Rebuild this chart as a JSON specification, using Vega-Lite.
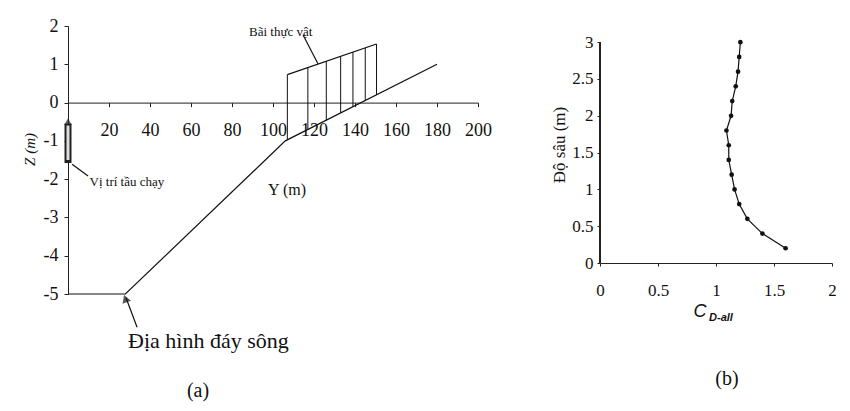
{
  "$schema": "https://vega.github.io/schema/vega-lite/v6.json",
  "background": "white",
  "padding": {"left": 22, "top": 17, "right": 5, "bottom": 5},
  "bounds": "flush",
  "spacing": 122,
  "config": {
    "view": {"stroke": null},
    "axis": {"grid": false, "domainColor": "#222", "tickColor": "#222", "labelColor": "#111", "titleColor": "#111", "labelFont": "Liberation Serif", "titleFont": "Liberation Serif", "titleFontWeight": "normal"},
    "text": {"font": "Liberation Serif", "color": "#111"}
  },
  "datasets": {
    "bed": [{"Y": 0, "Z": -5}, {"Y": 28, "Z": -5}, {"Y": 106, "Z": -1}, {"Y": 180, "Z": 1}],
    "veg": [
      {"Y": 107, "top": 0.73, "bottom": -0.97},
      {"Y": 117, "top": 0.91, "bottom": -0.70},
      {"Y": 126, "top": 1.08, "bottom": -0.46},
      {"Y": 133, "top": 1.21, "bottom": -0.27},
      {"Y": 139, "top": 1.32, "bottom": -0.11},
      {"Y": 145, "top": 1.43, "bottom": 0.05},
      {"Y": 150.5, "top": 1.53, "bottom": 0.20}
    ],
    "segs": [
      {"Y": 107, "Z": 0.73, "Y2": 150.5, "Z2": 1.53},
      {"Y": 2, "Z": -1.61, "Y2": 9.8, "Z2": -1.92},
      {"Y": 114.6, "Z": 1.77, "Y2": 122, "Z2": 1.01},
      {"Y": 33.7, "Z": -5.87, "Y2": 28.3, "Z2": -5.1}
    ],
    "cd": [
      {"cd": 1.60, "depth": 0.2},
      {"cd": 1.40, "depth": 0.4},
      {"cd": 1.27, "depth": 0.6},
      {"cd": 1.20, "depth": 0.8},
      {"cd": 1.16, "depth": 1.0},
      {"cd": 1.135, "depth": 1.2},
      {"cd": 1.11, "depth": 1.4},
      {"cd": 1.11, "depth": 1.6},
      {"cd": 1.09, "depth": 1.8},
      {"cd": 1.13, "depth": 2.0},
      {"cd": 1.14, "depth": 2.2},
      {"cd": 1.17, "depth": 2.4},
      {"cd": 1.19, "depth": 2.6},
      {"cd": 1.20, "depth": 2.8},
      {"cd": 1.21, "depth": 3.0}
    ]
  },
  "hconcat": [
    {
      "width": 410,
      "height": 268,
      "encoding": {
        "x": {"field": "Y", "type": "quantitative", "scale": {"domain": [0, 200], "nice": false, "zero": false},
          "axis": {"orient": "bottom", "offset": -191.4, "values": [0, 20, 40, 60, 80, 100, 120, 140, 160, 180, 200], "labelExpr": "datum.value == 0 ? '' : '' + datum.value", "title": null, "tickSize": 4, "labelPadding": 15, "labelFontSize": 18, "labelFlush": false, "labelOverlap": false}},
        "y": {"field": "Z", "type": "quantitative", "scale": {"domain": [-5, 2], "nice": false, "zero": false},
          "axis": {"values": [-5, -4, -3, -2, -1, 0, 1, 2], "labelExpr": "'' + datum.value", "title": "Z (m)", "titleFontStyle": "italic", "titleFontSize": 15, "titlePadding": 6, "titleY": 123, "tickSize": 4, "labelPadding": 6, "labelFontSize": 18, "labelFlush": false}}
      },
      "layer": [
        {"data": {"name": "bed"}, "mark": {"type": "line", "color": "#111", "strokeWidth": 1.2}},
        {"data": {"name": "veg"}, "mark": {"type": "rule", "color": "#111", "strokeWidth": 1}, "encoding": {"y": {"field": "top", "type": "quantitative"}, "y2": {"field": "bottom"}}},
        {"data": {"name": "segs"}, "mark": {"type": "rule", "color": "#111", "strokeWidth": 1.2}, "encoding": {"x2": {"field": "Y2"}, "y2": {"field": "Z2"}}},
        {"data": {"values": [{"Y": 0, "Z": -1.58, "Z2": -0.55}]}, "mark": {"type": "rule", "color": "#222", "strokeWidth": 7}, "encoding": {"y2": {"field": "Z2"}}},
        {"data": {"values": [{"Y": 0, "Z": -1.5, "Z2": -0.6}]}, "mark": {"type": "rule", "color": "#ddd", "strokeWidth": 3}, "encoding": {"y2": {"field": "Z2"}}},
        {"data": {"values": [{"Y": 0, "Z": -0.5}]}, "mark": {"type": "point", "shape": "triangle-up", "size": 60, "filled": true, "color": "#222"}},
        {"data": {"values": [{"Y": 28.0, "Z": -5.12}]}, "mark": {"type": "point", "shape": "triangle-up", "size": 80, "filled": true, "color": "#111", "angle": 340}},
        {"data": {"values": [{"Y": 10.5, "Z": -2.08, "t": "Vị trí tầu chạy"}, {"Y": 88.3, "Z": 1.84, "t": "Bãi thực vật"}]}, "mark": {"type": "text", "align": "left", "baseline": "middle", "fontSize": 13}, "encoding": {"text": {"field": "t"}}},
        {"data": {"values": [{"Y": 97.6, "Z": -2.29, "t": "Y (m)"}]}, "mark": {"type": "text", "align": "left", "baseline": "middle", "fontSize": 16}, "encoding": {"text": {"field": "t"}}},
        {"data": {"values": [{"Y": 29.3, "Z": -6.42, "t": "Địa hình đáy sông"}]}, "mark": {"type": "text", "align": "left", "baseline": "alphabetic", "fontSize": 22}, "encoding": {"text": {"field": "t"}}},
        {"data": {"values": [{"Y": 63.4, "Z": -7.53, "t": "(a)"}]}, "mark": {"type": "text", "align": "center", "baseline": "middle", "fontSize": 20}, "encoding": {"text": {"field": "t"}}}
      ]
    },
    {
      "width": 232,
      "height": 237,
      "data": {"name": "cd"},
      "encoding": {
        "x": {"field": "cd", "type": "quantitative", "scale": {"domain": [0, 2], "nice": false},
          "axis": {"values": [0, 0.5, 1, 1.5, 2], "labelExpr": "'' + datum.value", "title": null, "tickSize": 3, "labelPadding": 16, "labelFontSize": 17, "labelFlush": false}},
        "y": {"field": "depth", "type": "quantitative", "scale": {"domain": [0, 3.22], "nice": false},
          "axis": {"values": [0, 0.5, 1, 1.5, 2, 2.5, 3], "labelExpr": "'' + datum.value", "domain": false, "title": "Độ sâu (m)", "titleFontSize": 17, "titlePadding": 3, "tickSize": 3, "labelPadding": 4, "labelFontSize": 17, "labelFlush": false}}
      },
      "layer": [
        {"mark": {"type": "rule", "color": "#222", "strokeWidth": 1}, "encoding": {"x": {"datum": 0}, "y": {"datum": 0}, "y2": {"datum": 3}}},
        {"mark": {"type": "line", "color": "#111", "strokeWidth": 1.2}, "encoding": {"order": {"field": "depth", "type": "quantitative"}}},
        {"mark": {"type": "point", "filled": true, "color": "#111", "size": 22, "opacity": 1}},
        {"data": {"values": [{"cd": 0.862, "depth": -0.666, "t": "C"}]}, "mark": {"type": "text", "align": "center", "baseline": "middle", "fontSize": 18, "fontStyle": "italic", "font": "Liberation Sans"}, "encoding": {"text": {"field": "t"}}},
        {"data": {"values": [{"cd": 0.94, "depth": -0.75, "t": "D-all"}]}, "mark": {"type": "text", "align": "left", "baseline": "middle", "fontSize": 11, "fontStyle": "italic", "fontWeight": "bold", "font": "Liberation Sans"}, "encoding": {"text": {"field": "t"}}},
        {"data": {"values": [{"cd": 1.095, "depth": -1.58, "t": "(b)"}]}, "mark": {"type": "text", "align": "center", "baseline": "middle", "fontSize": 20}, "encoding": {"text": {"field": "t"}}}
      ]
    }
  ]
}
